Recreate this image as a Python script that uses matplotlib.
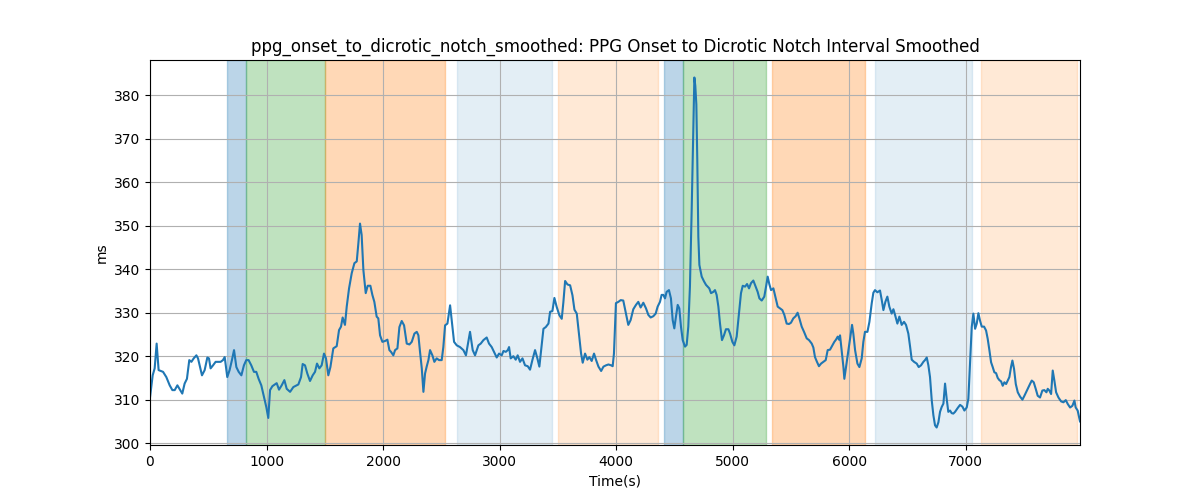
import numpy as np
import matplotlib
matplotlib.use("Agg")
import matplotlib.pyplot as plt

# time axis (s) and smoothed interval (ms)
time_s = [
    0, 23, 40, 57, 74, 112, 140, 169, 192, 212, 235, 257, 277, 297, 317, 337, 355, 375, 398, 412,
    426, 446, 469, 492, 506, 520, 541, 563, 583, 606, 626, 641, 663, 683, 703, 721, 741, 761, 784, 806,
    826, 846, 869, 892, 912, 932, 955, 978, 998, 1015, 1030, 1050, 1087, 1107, 1130, 1153, 1173, 1202, 1230, 1273,
    1296, 1310, 1330, 1350, 1373, 1396, 1416, 1433, 1453, 1473, 1493, 1510, 1530, 1548, 1573, 1602, 1622, 1639, 1653, 1673,
    1688, 1708, 1731, 1754, 1774, 1788, 1802, 1816, 1831, 1851, 1868, 1891, 1908, 1925, 1945, 1959, 1974, 1994, 2017, 2037,
    2054, 2068, 2088, 2103, 2123, 2140, 2160, 2180, 2203, 2226, 2246, 2269, 2289, 2303, 2317, 2332, 2346, 2360, 2374, 2389,
    2403, 2423, 2440, 2460, 2480, 2503, 2517, 2532, 2552, 2575, 2589, 2609, 2632, 2660, 2689, 2711, 2726, 2746, 2769, 2789,
    2818, 2838, 2861, 2889, 2909, 2932, 2952, 2975, 2995, 3018, 3033, 3053, 3070, 3081, 3095, 3118, 3138, 3155, 3175, 3196,
    3218, 3241, 3261, 3281, 3304, 3324, 3341, 3356, 3376, 3396, 3419, 3433, 3453, 3470, 3490, 3513, 3533, 3547, 3562, 3582,
    3605, 3625, 3642, 3662, 3682, 3699, 3713, 3733, 3753, 3770, 3790, 3810, 3828, 3848, 3871, 3891, 3913, 3934, 3956, 3970,
    3981, 3998, 4019, 4039, 4061, 4084, 4104, 4124, 4147, 4170, 4190, 4210, 4233, 4256, 4276, 4296, 4319, 4339, 4356, 4376,
    4390, 4405, 4419, 4433, 4453, 4470, 4485, 4499, 4513, 4528, 4542, 4556, 4571, 4591, 4605, 4619, 4633, 4648, 4662, 4671,
    4679, 4688, 4696, 4705, 4714, 4734, 4754, 4771, 4785, 4799, 4814, 4834, 4848, 4862, 4877, 4891, 4908, 4925, 4942, 4963,
    4977, 4997, 5014, 5034, 5054, 5071, 5086, 5106, 5123, 5140, 5157, 5177, 5197, 5214, 5229, 5249, 5271, 5286, 5300, 5314,
    5329, 5349, 5369, 5386, 5406, 5426, 5443, 5463, 5483, 5500, 5520, 5540, 5557, 5572, 5592, 5612, 5635, 5655, 5678, 5692,
    5706, 5723, 5740, 5758, 5778, 5798, 5815, 5835, 5855, 5872, 5886, 5901, 5912, 5921, 5935, 5950, 5958, 5972, 5993, 6013,
    6024, 6035, 6050, 6070, 6087, 6107, 6121, 6135, 6156, 6173, 6193, 6207, 6221, 6241, 6264, 6279, 6293, 6310, 6327, 6344,
    6364, 6379, 6393, 6413, 6430, 6450, 6470, 6487, 6507, 6522, 6536, 6556, 6579, 6596, 6616, 6636, 6650, 6665, 6679, 6693,
    6708, 6722, 6736, 6750, 6765, 6779, 6793, 6808, 6822, 6836, 6850, 6865, 6879, 6893, 6908, 6931, 6951, 6971, 6988, 7008,
    7022, 7037, 7051, 7065, 7080, 7094, 7108, 7122, 7137, 7157, 7174, 7188, 7203, 7217, 7231, 7245, 7260, 7274, 7288, 7303,
    7317, 7331, 7346, 7360, 7374, 7388, 7400, 7414, 7429, 7446, 7466, 7486, 7503, 7517, 7537, 7551, 7566, 7583, 7600, 7617,
    7637, 7657, 7674, 7692, 7703, 7717, 7732, 7746, 7760, 7775, 7795, 7818, 7838, 7858, 7875, 7895, 7915, 7932, 7943, 7960,
    7980,
]
interval_ms = [
    310.5, 315.6, 317.2, 322.9, 316.8, 316.4, 315.2, 313.3, 312.2, 312.2, 313.3, 312.3, 311.4, 313.7, 314.8, 319.1, 318.7, 319.5, 320.2, 319.5,
    317.9, 315.6, 316.8, 319.7, 319.5, 317.2, 317.9, 318.7, 318.7, 318.7, 319.1, 319.8, 315.2, 316.8, 319.1, 321.4, 317.5, 316.4, 315.6, 317.9,
    319.1, 319.1, 317.9, 316.4, 316.4, 314.8, 313.3, 310.6, 308.3, 305.8, 312.2, 313.1, 313.8, 312.3, 313.3, 314.5, 312.5, 311.8, 312.9, 313.5,
    315.2, 318.2, 317.9, 316.0, 314.3, 315.6, 316.4, 318.3, 317.2, 317.9, 320.6, 319.5, 315.6, 317.5, 321.8, 322.3, 326.0, 326.8, 328.9, 327.2,
    331.4, 335.6, 339.1, 341.4, 341.8, 346.0, 350.5, 347.9, 339.8, 334.5, 336.2, 336.2, 334.1, 332.5, 329.1, 328.7, 324.8, 323.3, 323.5, 323.8,
    321.4, 321.0, 320.2, 321.4, 321.8, 326.7, 328.1, 327.1, 322.9, 322.7, 323.3, 325.2, 325.6, 324.8, 321.0, 317.2, 311.8, 316.0, 317.6, 319.1,
    321.4, 320.2, 318.7, 319.5, 319.1, 319.1, 322.1, 327.1, 327.5, 331.7, 328.2, 323.3, 322.5, 322.1, 321.4, 320.2, 322.5, 325.6, 321.4, 320.2,
    322.5, 322.9, 323.7, 324.3, 322.9, 322.1, 321.0, 319.7, 320.6, 320.2, 321.2, 321.0, 321.4, 322.1, 319.5, 320.0, 319.2, 320.2, 318.7, 319.5,
    317.9, 317.7, 316.9, 319.1, 321.4, 319.5, 317.6, 321.4, 326.3, 326.7, 327.5, 330.2, 330.4, 333.4, 331.3, 329.4, 328.6, 332.4, 337.3, 336.5,
    336.3, 334.0, 330.7, 329.8, 324.8, 320.6, 318.5, 320.6, 319.2, 319.8, 318.9, 320.6, 319.1, 317.6, 316.6, 317.6, 317.9, 318.1, 317.9, 317.7,
    320.6, 332.2, 332.5, 332.9, 332.8, 329.8, 327.2, 328.3, 330.8, 331.8, 332.5, 331.2, 332.3, 331.0, 329.5, 328.9, 329.2, 329.8, 331.4, 332.5,
    334.1, 334.1, 333.3, 334.8, 335.2, 333.3, 328.3, 326.4, 329.1, 331.8, 331.0, 326.8, 323.7, 322.2, 322.6, 326.8, 336.0, 353.7, 372.9, 384.1,
    382.2, 377.9, 365.2, 347.5, 341.0, 338.3, 337.2, 336.4, 336.0, 335.6, 334.5, 334.8, 335.2, 334.1, 331.4, 327.5, 323.7, 324.8, 326.2, 326.2,
    325.2, 323.3, 322.5, 324.5, 329.8, 334.5, 336.2, 336.0, 336.6, 335.6, 336.8, 337.4, 336.0, 334.8, 333.3, 332.8, 333.7, 336.0, 338.3, 336.6,
    335.2, 335.6, 333.3, 331.4, 331.0, 330.6, 329.5, 327.5, 327.4, 327.7, 328.7, 329.2, 330.0, 328.7, 326.8, 325.6, 324.1, 323.7, 322.9, 322.0,
    319.8, 318.7, 317.7, 318.3, 318.7, 319.1, 321.4, 321.5, 322.5, 323.3, 323.8, 324.5, 323.8, 324.8, 321.2, 317.5, 314.8, 317.5, 321.4, 325.2,
    327.2, 325.2, 321.4, 318.3, 317.5, 319.5, 323.3, 325.6, 325.6, 327.9, 332.2, 334.6, 335.2, 334.7, 335.1, 332.9, 330.6, 332.5, 333.7, 331.4,
    329.8, 330.8, 329.5, 327.5, 329.1, 327.2, 327.9, 327.2, 325.2, 322.2, 319.2, 318.7, 318.3, 317.5, 317.9, 318.7, 319.1, 319.7, 317.9, 315.2,
    309.8, 306.4, 304.1, 303.6, 304.8, 307.2, 308.3, 309.1, 313.7, 310.2, 307.2, 307.5, 306.9, 306.8, 307.2, 308.1, 308.8, 308.4, 307.5, 308.2,
    310.2, 319.0, 326.7, 329.8, 326.3, 327.5, 329.9, 328.2, 326.8, 326.8, 325.9, 324.0, 321.3, 318.6, 317.5, 316.3, 316.1, 315.0, 314.5, 314.2,
    313.2, 314.0, 313.6, 314.4, 315.2, 317.5, 319.0, 317.1, 313.6, 311.7, 310.7, 310.0, 310.9, 311.7, 312.8, 313.6, 314.4, 314.0, 312.5, 310.9,
    310.5, 312.1, 312.2, 311.7, 312.5, 312.1, 311.3, 316.7, 314.4, 311.7, 310.5, 309.6, 309.4, 309.9, 309.0, 308.2, 308.6, 309.8, 308.2, 307.5,
    305.0,
]

# shaded periods (start, end in s) and which kind of period they are
span_start = [661, 821, 1505, 2634, 3501, 4411, 4577, 5338, 6222, 7131]
span_end = [821, 1505, 2529, 3447, 4357, 4577, 5283, 6136, 7051, 7953]
span_kind = ["A", "B", "C", "D", "E", "A", "B", "C", "D", "E"]

KIND_STYLE = {
    "A": ("tab:blue", 0.3),
    "B": ("tab:green", 0.3),
    "C": ("tab:orange", 0.3),
    "D": ("tab:blue", 0.12),
    "E": ("tab:orange", 0.17),
}


def main():
    fig, ax = plt.subplots(figsize=(12, 5), dpi=100)

    for s, e, k in zip(span_start, span_end, span_kind):
        color, alpha = KIND_STYLE[k]
        ax.axvspan(s, e, color=color, alpha=alpha)

    ax.plot(time_s, interval_ms, color="tab:blue")

    ax.set_xlim(time_s[0], time_s[-1])
    ax.set_xticks(np.arange(0, 8000, 1000))
    ax.set_yticks(np.arange(300, 381, 10))
    ax.grid(True)

    ax.set_title("ppg_onset_to_dicrotic_notch_smoothed: PPG Onset to Dicrotic Notch Interval Smoothed")
    ax.set_xlabel("Time(s)")
    ax.set_ylabel("ms")

    fig.savefig("out.png")
    plt.close(fig)


if __name__ == "__main__":
    main()
